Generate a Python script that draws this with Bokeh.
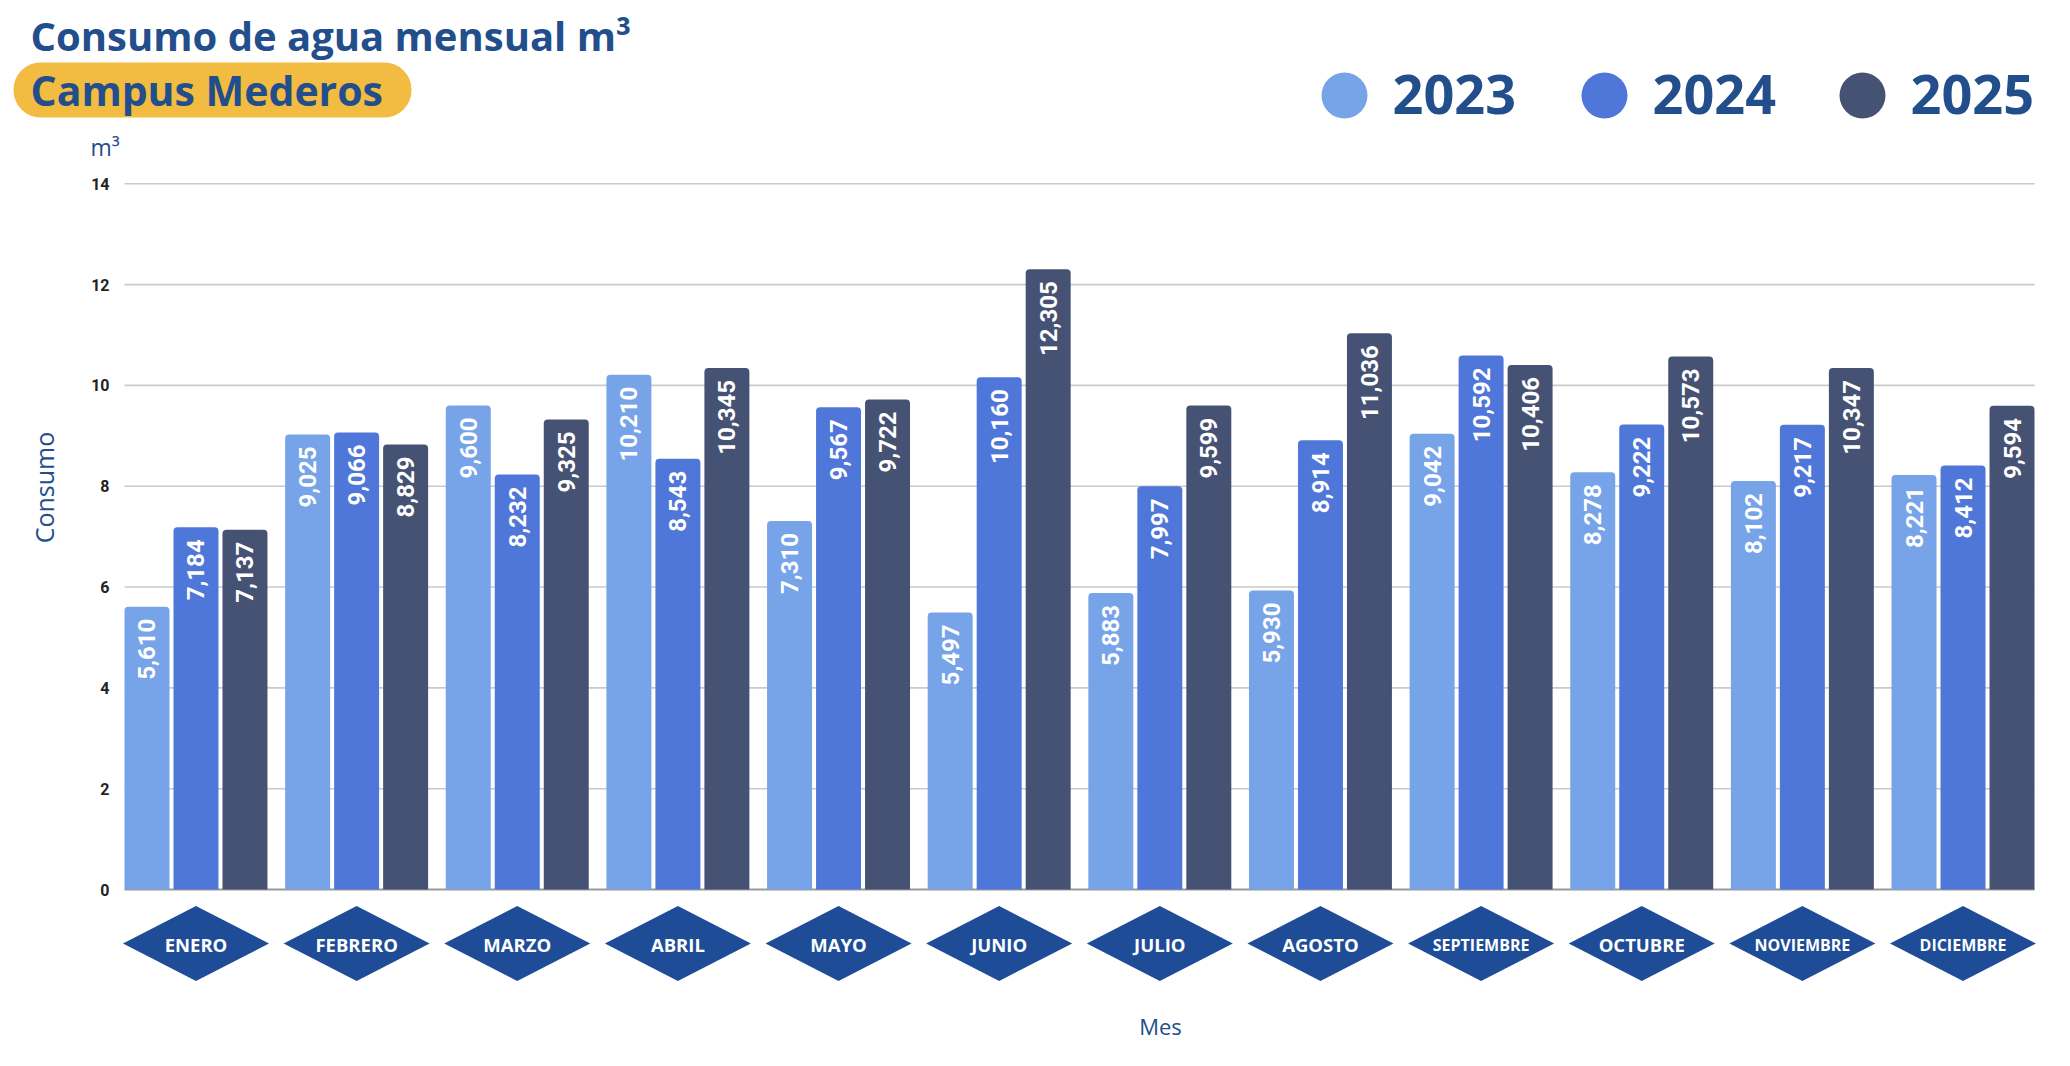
import math
from bokeh.plotting import figure
from bokeh.models import ColumnDataSource, Range1d
from bokeh.core.properties import value
from bokeh.embed import file_html
from bokeh.resources import INLINE

# ---------------- data ----------------
months = ["ENERO", "FEBRERO", "MARZO", "ABRIL", "MAYO", "JUNIO", "JULIO",
          "AGOSTO", "SEPTIEMBRE", "OCTUBRE", "NOVIEMBRE", "DICIEMBRE"]
years = ["2023", "2024", "2025"]
v2023 = [5610, 9025, 9600, 10210, 7310, 5497, 5883, 5930, 9042, 8278, 8102, 8221]
v2024 = [7184, 9066, 8232, 8543, 9567, 10160, 7997, 8914, 10592, 9222, 9217, 8412]
v2025 = [7137, 8829, 9325, 10345, 9722, 12305, 9599, 11036, 10406, 10573, 10347, 9594]
y_ticks = [0, 2, 4, 6, 8, 10, 12, 14]
y_tick_labels = ["0", "2", "4", "6", "8", "10", "12", "14"]

title_text = "Consumo de agua mensual m³"
subtitle_text = "Campus Mederos"
unit_text = "m³"
y_label = "Consumo"
x_label = "Mes"

# ---------------- styles / layout ----------------
colors = ["#77A3E8", "#4F76D9", "#465273"]
navy = "#224E8C"
diamond_color = "#1E4C97"
pill_color = "#F2BB41"
FONT = "Open Sans"

W, H = 2064, 1060
FRAME_L, FRAME_R = 124, 2034          # pixel extent of the bar area
Y0_PX, PX_PER_Y = 889, 50.41          # pixel row of value 0, pixels per unit
BAR_W = 0.28
OFFS = [-0.305, 0.0, 0.305]
x0_data, x1_data = -0.445, 11.445     # data values at FRAME_L / FRAME_R
px_per_x = (FRAME_R - FRAME_L) / (x1_data - x0_data)


def X(px):
    return x0_data + (px - FRAME_L) / px_per_x


def Y(py):
    return (Y0_PX - py) / PX_PER_Y


p = figure(width=W, height=H,
           x_range=Range1d(X(0), X(W)), y_range=Range1d(Y(H), Y(0)),
           x_axis_location=None, y_axis_location=None, toolbar_location=None,
           output_backend="svg", min_border=0)
p.outline_line_color = None
p.grid.visible = False

# ---------------- value grid and tick labels ----------------
p.segment(x0=[X(FRAME_L)] * len(y_ticks), x1=[X(FRAME_R)] * len(y_ticks),
          y0=y_ticks, y1=y_ticks,
          line_color=["#9A9A9A" if t == 0 else "#CACACA" for t in y_ticks],
          line_width=[2 if t == 0 else 1.6 for t in y_ticks])
p.text(x=[X(FRAME_L - 15)] * len(y_ticks), y=y_ticks, text=y_tick_labels,
       text_align="right", text_baseline="middle", text_color="#222222",
       text_font=value("Roboto"), text_font_style="bold", text_font_size="16px")

# ---------------- bars with value labels ----------------
for k, vals in enumerate([v2023, v2024, v2025]):
    src = ColumnDataSource(dict(
        x=[i + OFFS[k] for i in range(len(months))],
        top=[v / 1000 for v in vals],
        ly=[v / 1000 - 12 / PX_PER_Y for v in vals],
        label=[f"{v:,}" for v in vals],
    ))
    p.vbar(x="x", top="top", bottom=0, width=BAR_W, fill_color=colors[k],
           line_color=None, border_radius=(4, 4, 0, 0), source=src)
    p.text(x="x", y="ly", text="label", angle=math.pi / 2, text_align="right",
           text_baseline="middle", text_color="white", text_font=value("Roboto"),
           text_font_style="bold", text_font_size="24px", source=src)

# ---------------- month diamonds ----------------
hw = 73 / px_per_x
hh = 37.5 / PX_PER_Y
yc = Y(943)
cx = list(range(len(months)))
p.patches(xs=[[c - hw, c, c + hw, c] for c in cx],
          ys=[[yc, yc + hh, yc, yc - hh] for c in cx],
          fill_color=diamond_color, line_color=None)
msrc = ColumnDataSource(dict(
    x=cx, y=[Y(944)] * len(cx), text=months,
    size=["16px" if len(m) > 8 else "18.5px" for m in months]))
p.text(x="x", y="y", text="text", source=msrc, text_align="center",
       text_baseline="middle", text_color="white", text_font=value(FONT),
       text_font_style="bold", text_font_size="size")

# ---------------- axis titles ----------------
p.text(x=[X(1160)], y=[Y(1025)], text=[x_label], text_align="center",
       text_baseline="middle", text_color=navy, text_font=value(FONT),
       text_font_size="22px")
p.text(x=[X(43)], y=[Y(487)], text=[y_label], angle=math.pi / 2,
       text_align="center", text_baseline="middle", text_color=navy,
       text_font=value(FONT), text_font_size="25px")
p.text(x=[X(90)], y=[Y(146)], text=[unit_text], text_align="left",
       text_baseline="middle", text_color=navy, text_font=value(FONT),
       text_font_size="23px")

# ---------------- title and subtitle pill ----------------
p.text(x=[X(30)], y=[Y(35)], text=[title_text], text_align="left",
       text_baseline="middle", text_color=navy, text_font=value(FONT),
       text_font_style="bold", text_font_size="40px")
p.quad(left=[X(13)], right=[X(411)], top=[Y(62)], bottom=[Y(117)],
       fill_color=pill_color, line_color=None, border_radius=27)
p.text(x=[X(30)], y=[Y(89)], text=[subtitle_text], text_align="left",
       text_baseline="middle", text_color=navy, text_font=value(FONT),
       text_font_style="bold", text_font_size="41px")

# ---------------- legend ----------------
leg_px = [1344, 1604, 1862]
p.scatter(x=[X(c) for c in leg_px], y=[Y(95)] * 3, size=46, marker="circle",
          fill_color=colors, line_color=None)
p.text(x=[X(c + 48) for c in leg_px], y=[Y(94)] * 3, text=years, text_align="left",
       text_baseline="middle", text_color=navy, text_font=value(FONT),
       text_font_style="bold", text_font_size="54px")

open("out.html", "w").write(file_html(p, INLINE))
